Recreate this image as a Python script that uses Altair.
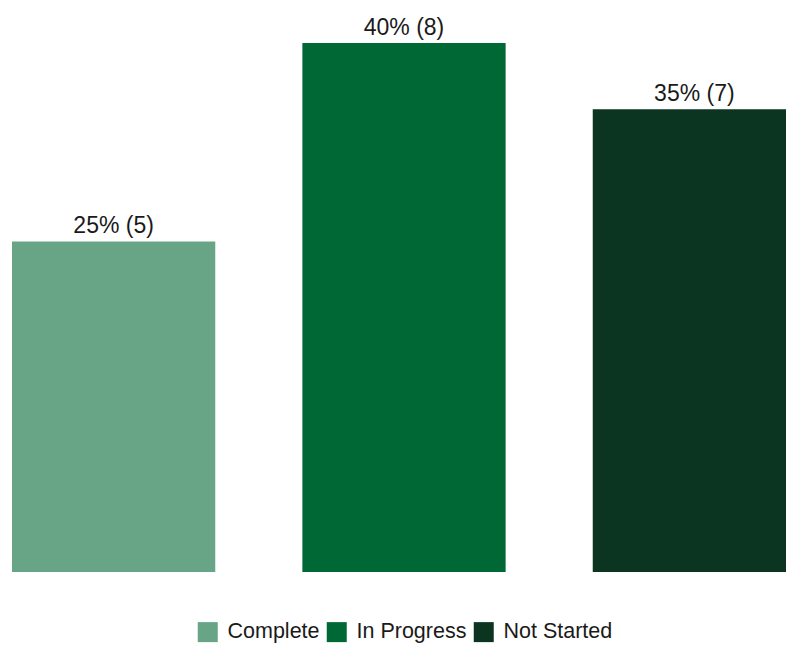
import altair as alt
import pandas as pd

categories = ["Complete", "In Progress", "Not Started"]
percents = [25, 40, 35]
counts = [5, 8, 7]
colors = ["#67a586", "#006835", "#0c3521"]

df = pd.DataFrame({
    "status": categories,
    "pct": percents,
    "count": counts,
})
df["label"] = [f"{p}% ({c})" for p, c in zip(percents, counts)]

base = alt.Chart(df).encode(
    x=alt.X("status:N", sort=categories, axis=None,
            scale=alt.Scale(paddingInner=0.3, paddingOuter=0, range=[0, 784])),
    y=alt.Y("pct:Q", axis=None, scale=alt.Scale(domain=[0, 40], nice=False, zero=True)),
)

bars = base.mark_bar().encode(
    color=alt.Color("status:N", sort=categories,
                    scale=alt.Scale(domain=categories, range=colors),
                    legend=alt.Legend(
                        title=None, orient="none", direction="horizontal",
                        legendX=185, legendY=578, padding=0,
                        symbolType="square", symbolSize=400, symbolStrokeWidth=0,
                        labelFontSize=21.5, labelFont="Liberation Sans", labelColor="#1a1a1a",
                        labelOffset=9, columnPadding=6,
                        labelLimit=300,
                    )),
)

text = base.mark_text(baseline="alphabetic", dy=-8, fontSize=23,
                      font="Liberation Sans", color="#1a1a1a").encode(text="label:N")

chart = (bars + text).properties(
    width=774, height=529,
    autosize=alt.AutoSizeParams(type="none"),
    padding={"left": 4, "top": 35, "right": 0, "bottom": 73},
).configure_view(stroke=None)

chart.save("out.html", embed_options={"renderer": "svg", "actions": False})
